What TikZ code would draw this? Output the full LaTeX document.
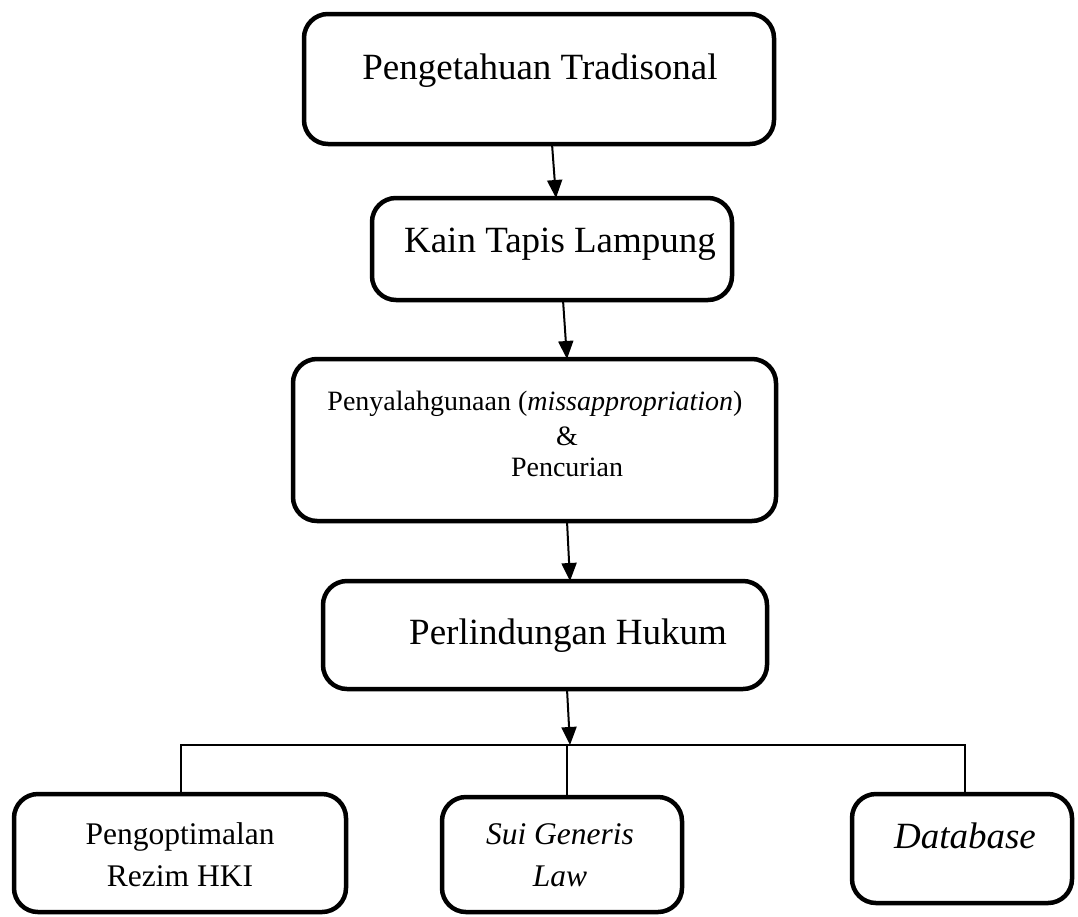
\documentclass[tikz,border=0pt]{standalone}
\usepackage{fontspec}
\setmainfont{Liberation Serif}
\usetikzlibrary{arrows.meta}
\begin{document}
\begin{tikzpicture}[x=1pt,y=-1pt,
  boxnode/.style={draw,line width=4.5pt,rounded corners=24pt,inner sep=0pt,outer sep=0pt},
  bigtext/.style={font=\fontsize{37}{44}\selectfont,inner sep=0pt},
  midtext/.style={font=\fontsize{28}{34}\selectfont,inner sep=0pt},
  smalltext/.style={font=\fontsize{31.5}{42}\selectfont,inner sep=0pt,align=center},
  arr/.style={line width=2pt,-{Triangle[length=18pt,width=15pt]}},
  link/.style={line width=1.5pt}]
\useasboundingbox (0,0) rectangle (1078,916);
% boxes
\node[boxnode,minimum width=470pt,minimum height=130pt] (b1) at (539,79) {};
\node[boxnode,minimum width=360pt,minimum height=102pt] (b2) at (552,249) {};
\node[boxnode,minimum width=483pt,minimum height=162pt] (b3) at (534.5,440) {};
\node[boxnode,minimum width=444pt,minimum height=108pt] (b4) at (545,635) {};
\node[boxnode,minimum width=332pt,minimum height=118pt] (b5) at (180,853) {};
\node[boxnode,minimum width=240pt,minimum height=115pt] (b6) at (562,854.5) {};
\node[boxnode,minimum width=220pt,minimum height=109pt] (b7) at (962,848.5) {};
% texts
\node[bigtext] (t1) at (540,71) {Pengetahuan Tradisonal};
\node[bigtext] (t2) at (560,244) {Kain Tapis Lampung};
\node[midtext] (t3a) at (535,404) {Penyalahgunaan (\textit{missappropriation})};
\node[midtext] (t3b) at (567,436) {\&};
\node[midtext] (t3c) at (567,467) {Pencurian};
\node[bigtext] (t4) at (568,636) {Perlindungan Hukum};
\node[smalltext] (t5) at (180,855) {Pengoptimalan\\Rezim HKI};
\node[smalltext,font=\fontsize{31.5}{42}\selectfont\itshape] (t6) at (560,855) {Sui Generis\\Law};
\node[bigtext,font=\fontsize{37}{44}\selectfont\itshape] (t7) at (965,836) {Database};
% arrows
\draw[arr] ([xshift=13pt]b1.south) -- ([xshift=4pt]b2.north);
\draw[arr] ([xshift=11pt]b2.south) -- ([xshift=32.5pt]b3.north);
\draw[arr] ([xshift=32.5pt]b3.south) -- ([xshift=25pt]b4.north);
\coordinate (hub) at (570,745);
\draw[arr] ([xshift=22pt]b4.south) -- (hub);
% distribution lines
\draw[link] ([xshift=1pt]b5.north) -- ([xshift=1pt]b5.north |- hub) -| ([xshift=3pt]b7.north);
\draw[link] ([xshift=5pt]b6.north) -- ([xshift=5pt]b6.north |- hub);
\end{tikzpicture}
\end{document}
